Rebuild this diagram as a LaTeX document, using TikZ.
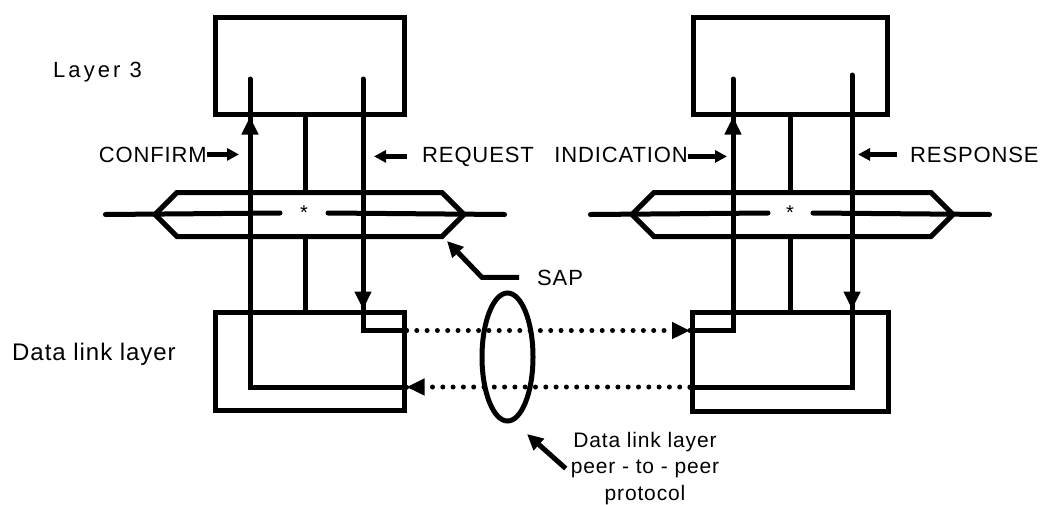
\documentclass[tikz,border=0pt]{standalone}
\usepackage{fontspec}
\setmainfont{Liberation Sans}[LetterSpace=4]
\usetikzlibrary{arrows.meta, positioning, shapes.geometric, shapes.symbols}

\begin{document}
\begin{tikzpicture}[x=1pt, y=-1pt,
    layer/.style={rectangle, draw, line width=5pt, minimum width=189pt,
        minimum height=97pt, inner sep=0pt},
    sap/.style={signal, signal to=east and west, draw, line width=5pt,
        minimum height=44pt, inner sep=0pt},
    wire/.style={line width=5pt, line cap=round},
    arr/.style={line width=5pt, -{Triangle[length=18pt, width=16pt]}},
    ptr/.style={line width=5pt, -{Triangle[length=12pt, width=12pt]}},
    dots/.style={line width=4.5pt, line cap=round, dash pattern=on 0pt off 10.3pt},
    txt/.style={inner sep=0pt, font=\fontsize{22}{26}\selectfont}
]
\useasboundingbox (0,0) rectangle (1041,504);

% layer boxes
\node[layer] (l3a) at (309.5,65.5) {};
\node[layer, minimum width=194pt] (l3b) at (790,65.5) {};
\node[layer, minimum height=98pt] (dla) at (309.5,361) {};
\node[layer, minimum width=196pt, minimum height=99pt] (dlb) at (790.5,361.5) {};

% service access points
\node[sap, minimum width=309pt] (sapa) at (309.5,214.5) {};
\node[sap, minimum width=321pt] (sapb) at (792.5,214.5) {};
\node[inner sep=0pt, font=\fontsize{20}{20}\selectfont] (stara) at (304,213) {*};
\node[inner sep=0pt, font=\fontsize{20}{20}\selectfont] (starb) at (790,213) {*};
\draw[wire] ([xshift=-46pt]sapa.west) -- ([xshift=-24pt]stara.center);
\draw[wire] ([xshift=24pt]stara.center) -- ([xshift=37pt]sapa.east);
\draw[wire] ([xshift=-38pt]sapb.west) -- ([xshift=-22pt]starb.center);
\draw[wire] ([xshift=23pt]starb.center) -- ([xshift=33pt]sapb.east);

% primitive lines
\coordinate (cnf) at (250,79);
\coordinate (req) at (363,79);
\coordinate (ind) at (733,79);
\coordinate (rsp) at (852,75);
\coordinate (mida) at (305,0);
\coordinate (midb) at (790,0);
\coordinate (upper) at (0,330.5);
\coordinate (lower) at (0,387);

\draw[wire] (mida |- l3a.south) -- (mida |- sapa.north);
\draw[wire] (mida |- sapa.south) -- (mida |- dla.north);
\draw[wire] (midb |- l3b.south) -- (midb |- sapb.north);
\draw[wire] (midb |- sapb.south) -- (midb |- dlb.north);

\draw[wire] (req) |- (dla.east |- upper);
\draw[arr] (req |- l3a.south) -- (req |- dla.north);
\draw[dots, arr] (dla.east |- upper) -- (dlb.west |- upper);
\draw[wire] (dlb.west |- upper) -| (ind);
\draw[arr] (ind |- dlb.north) -- (ind |- l3b.south);

\draw[wire] (rsp) |- (dlb.west |- lower);
\draw[arr] (rsp |- l3b.south) -- (rsp |- dlb.north);
\draw[dots, arr] (dlb.west |- lower) -- (dla.east |- lower);
\draw[wire] (dla.east |- lower) -| (cnf);
\draw[arr] (cnf |- dla.north) -- (cnf |- l3a.south);

% peer protocol
\node[draw, ellipse, line width=5pt, minimum width=51pt, minimum height=128pt] (peer) at (507.5,357) {};

% labels
\node[txt, anchor=base west] (l3lbl) at (53,77) {\addfontfeature{LetterSpace=14}Layer 3};
\node[txt, anchor=base west, font=\fontsize{24}{28}\selectfont] (dllbl) at (12,360.7) {Data link layer};
\node[txt, anchor=base east] (confirm) at (207,162) {CONFIRM};
\node[txt, anchor=base west] (request) at (422,162) {REQUEST};
\node[txt, anchor=base east] (indication) at (688,162) {INDICATION};
\node[txt, anchor=base west] (response) at (910,162) {RESPONSE};
\node[txt, anchor=base west] (saplbl) at (537,285) {SAP};
\node[txt, anchor=north, align=center, font=\fontsize{21}{26.5}\selectfont] (peerlbl) at (645,432)
    {Data link layer\\peer - to - peer\\protocol};

\draw[ptr] (confirm.east) -- ([xshift=-11pt]cnf |- confirm.east);
\draw[ptr] ([xshift=-15pt]request.west) -- ([xshift=11pt]req |- request.west);
\draw[ptr] ([yshift=-2pt]indication.east) -- ([xshift=-6pt, yshift=-2pt]ind |- indication.east);
\draw[ptr] ([xshift=-13pt]response.west) -- ([xshift=6pt]rsp |- response.west);

\coordinate (saptip) at (447,241);
\coordinate (peertip) at (527,434);
\draw[arr, -{Triangle[length=16pt, width=15pt]}] ([xshift=-18pt]saplbl.west) -- ++(-37,0) -- (saptip);
\draw[arr, -{Triangle[length=16pt, width=15pt]}] ([xshift=-5pt]peerlbl.west) -- (peertip);
\end{tikzpicture}
\end{document}
